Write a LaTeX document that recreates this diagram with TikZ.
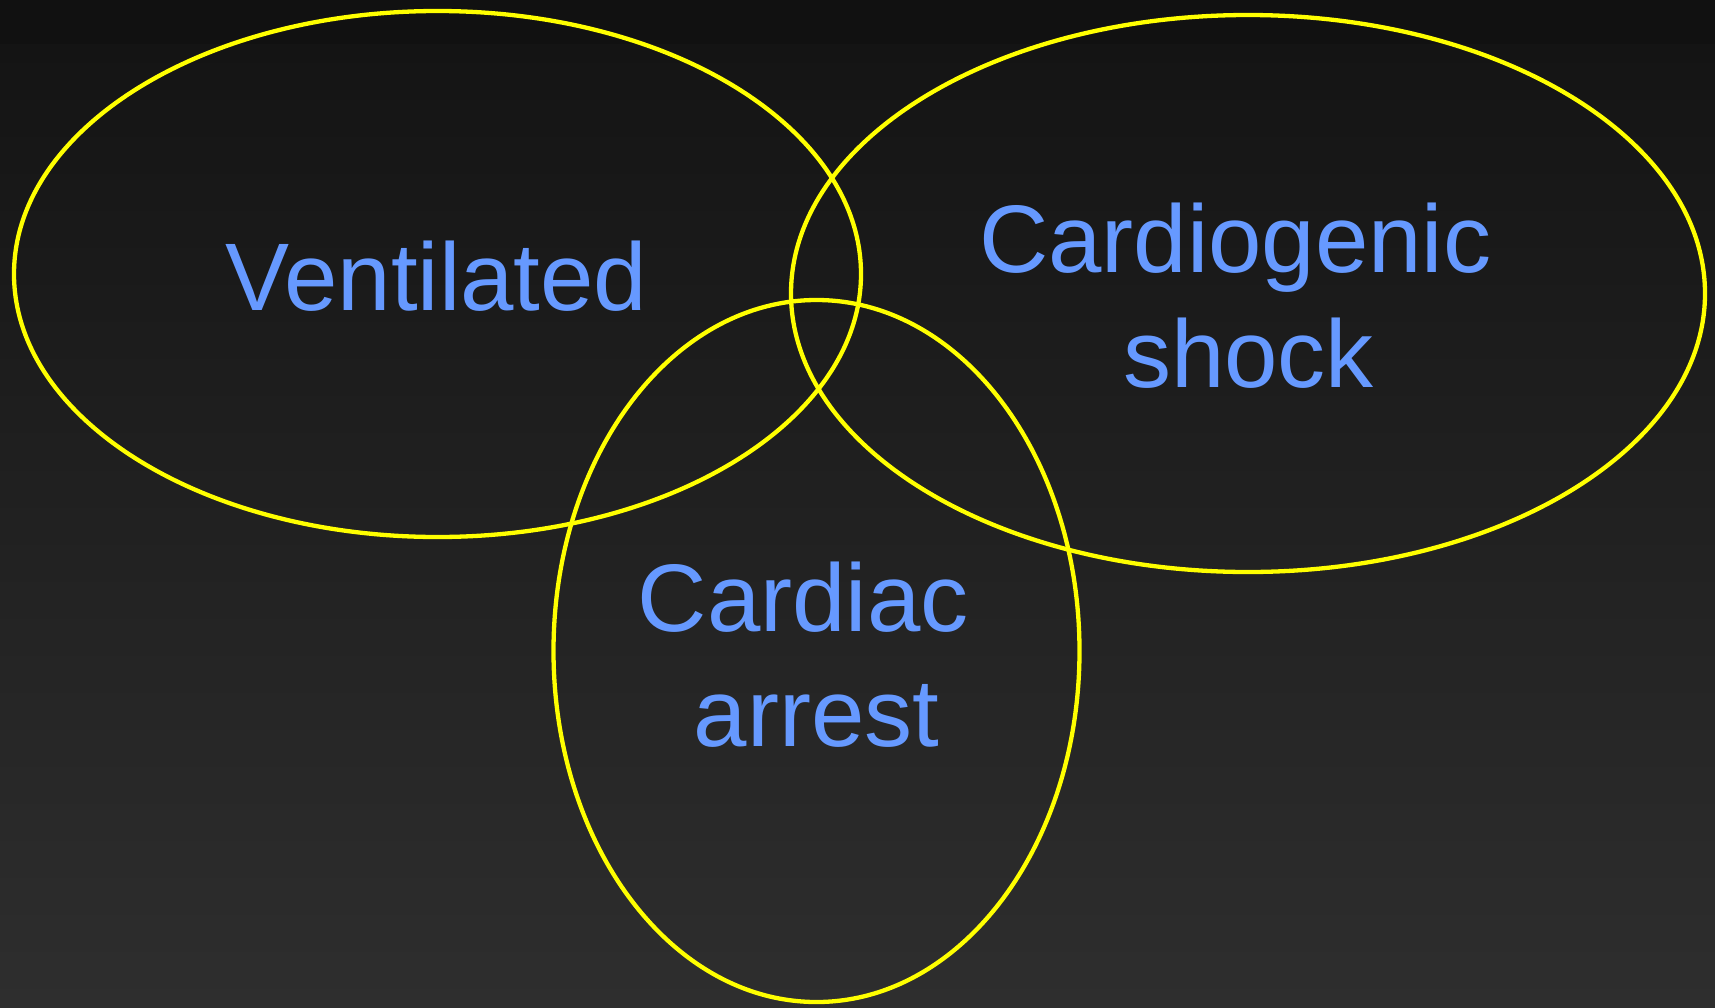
\documentclass[tikz,border=0pt]{standalone}
\usepackage{fontspec}
\setmainfont{Liberation Sans}
\usepackage{tikz}
\usepackage{xcolor}
\usetikzlibrary{shapes.geometric,positioning,calc}
\definecolor{vnYellow}{HTML}{FFFF00}
\definecolor{vnLabel}{HTML}{6699FF}
\definecolor{vnBgTop}{HTML}{141414}
\definecolor{vnBgBand}{HTML}{111111}
\definecolor{vnBgBottom}{HTML}{2E2E2E}
\tikzset{
    vnSet/.style={
        ellipse,
        draw=vnYellow,
        line width=4.3pt,
        inner sep=0pt,
        outer sep=0pt
    },
    vnText/.style={
        text=vnLabel,
        font=\fontsize{96}{115}\selectfont,
        align=center,
        anchor=base,
        inner sep=0pt
    }
}

\begin{document}
\begin{tikzpicture}[x=1pt, y=-1pt]
% Background
\useasboundingbox (0,0) rectangle (1715,1007);
\shade[top color=vnBgTop, bottom color=vnBgBottom] (0,44) rectangle (1715,1007);
\fill[vnBgBand] (0,0) rectangle (1715,44);

% Sets
\node[vnSet, minimum width=847pt, minimum height=526pt] (vent) at (437.5,274) {};
\node[vnSet, minimum width=914pt, minimum height=557pt] (shock) at (1248,293.5) {};
\node[vnSet, minimum width=526pt, minimum height=702pt] (arrest) at (816.5,651) {};

% Labels (anchor=base sits on the last line)
\node[vnText] (ventLabel) at (436.5,310) {Ventilated};
\node[vnText] (shockLabel) at (1248.5,387) {Cardiogenic\kern.278em\\shock};
\node[vnText] (arrestLabel) at (816.5,746.7) {Cardiac\kern.278em\\arrest};
\end{tikzpicture}
\end{document}
